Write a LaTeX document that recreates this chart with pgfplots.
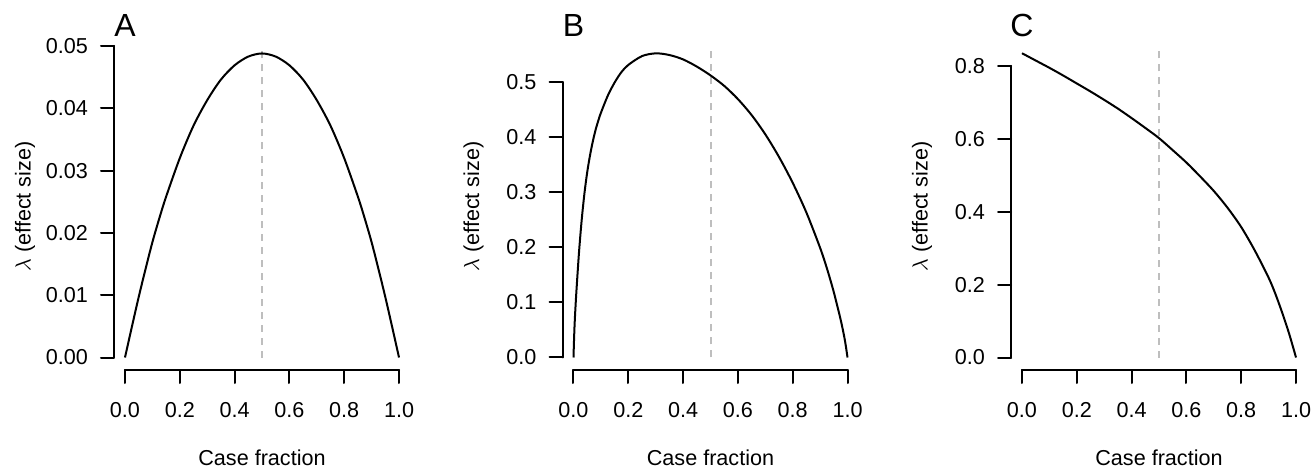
\documentclass[border=0pt]{standalone}
\usepackage{fontspec}
\setmainfont{Liberation Sans}
\usepackage{pgfplots}
\pgfplotsset{compat=1.18}
\definecolor{DASH}{HTML}{BEBEBE}

\tikzset{
  refline/.style={DASH, line width=1bp, dash pattern=on 3.5bp off 3bp},
  frame/.style={black, line width=1bp, line cap=round},
  tag/.style={font=\fontsize{16bp}{18bp}\selectfont, anchor=center, yshift=172.25bp},
}
\pgfplotsset{
  panel/.style={
    scale only axis, width=148bp, height=163.5bp, anchor=south west,
    xmin=-0.0401, xmax=1.0401,
    clip=false,
    axis x line*=bottom, axis y line*=left,
    axis line style={draw=none},
    tick align=outside, major tick length=6.5bp,
    tick style={black, line width=1bp, line cap=round},
    xtick={0,0.2,0.4,0.6,0.8,1},
    minor tick num=0,
    font=\fontsize{10.8bp}{13bp}\selectfont,
    /pgf/number format/assume math mode=true,
    xticklabel style={/pgf/number format/fixed, /pgf/number format/fixed zerofill, /pgf/number format/precision=1, yshift=-6bp},
    yticklabel style={xshift=-3bp},
    scaled y ticks=false,
    xlabel={Case fraction},
    ylabel={\(\lambda\) (effect size)},
    every axis x label/.style={at={(rel axis cs:0.5,0)}, yshift=-44bp, anchor=center},
    every axis y label/.style={at={(rel axis cs:0,0.5)}, xshift=-44.5bp, rotate=90, anchor=center},
  },
  ydigits/.style={yticklabel style={/pgf/number format/fixed, /pgf/number format/fixed zerofill, /pgf/number format/precision=#1}},
  curve/.style={black, line width=1bp, smooth},
}

\begin{document}
\begin{tikzpicture}
\path[use as bounding box] (0,0) rectangle (655.5bp,234bp);

% ---- A
\begin{axis}[panel, at={(57bp,49bp)},
  ymin=-0.002006, ymax=0.05048,
  ytick={0,0.01,0.02,0.03,0.04,0.05}, ydigits=2]
\draw[refline] (axis cs:0.5,0) -- (axis cs:0.5,0.0497);
\addplot[curve] coordinates {
(0,0) (0.025,0.0049) (0.05,0.0097) (0.075,0.0142) (0.1,0.0185) (0.125,0.0223)
(0.15,0.0258) (0.2,0.0320) (0.25,0.0372) (0.3,0.0413) (0.35,0.0446) (0.4,0.0469)
(0.45,0.0483) (0.5,0.0488) (0.55,0.0483) (0.6,0.0469) (0.65,0.0446) (0.7,0.0413)
(0.75,0.0372) (0.8,0.0320) (0.85,0.0258) (0.875,0.0223) (0.9,0.0185) (0.925,0.0142)
(0.95,0.0097) (0.975,0.0049) (1,0)
};
\draw[frame] ({axis cs:0,0} |- {rel axis cs:0,0}) -- ({axis cs:1,0} |- {rel axis cs:0,0});
\draw[frame] ({rel axis cs:0,0} |- {axis cs:0,0}) -- ({rel axis cs:0,0} |- {axis cs:0,0.05});
\node[tag] at ({axis cs:0,0} |- {rel axis cs:0,0}) {A};
\end{axis}

% ---- B
\begin{axis}[panel, at={(281.25bp,49bp)},
  ymin=-0.02269, ymax=0.5708,
  ytick={0,0.1,0.2,0.3,0.4,0.5}, ydigits=1]
\draw[refline] (axis cs:0.5,0) -- (axis cs:0.5,0.5617);
\addplot[curve] coordinates {
(0,0) (0.0025,0.04) (0.005,0.07) (0.01,0.115) (0.02,0.19) (0.03,0.25)
(0.04,0.298) (0.05,0.336) (0.06,0.366) (0.07,0.391) (0.08,0.412) (0.09,0.429)
(0.1,0.444) (0.125,0.475) (0.15,0.499) (0.175,0.518) (0.2,0.531) (0.25,0.547)
(0.3,0.552) (0.35,0.549) (0.4,0.541) (0.45,0.528) (0.5,0.512) (0.55,0.493)
(0.6,0.469) (0.65,0.440) (0.7,0.405) (0.75,0.364) (0.8,0.317) (0.85,0.263)
(0.9,0.199) (0.925,0.1615) (0.95,0.1185) (0.975,0.0685) (0.99,0.0325) (1,0)
};
\draw[frame] ({axis cs:0,0} |- {rel axis cs:0,0}) -- ({axis cs:1,0} |- {rel axis cs:0,0});
\draw[frame] ({rel axis cs:0,0} |- {axis cs:0,0}) -- ({rel axis cs:0,0} |- {axis cs:0,0.5});
\node[tag] at ({axis cs:0,0} |- {rel axis cs:0,0}) {B};
\end{axis}

% ---- C
\begin{axis}[panel, at={(505.5bp,49bp)},
  ymin=-0.0343, ymax=0.8631,
  ytick={0,0.2,0.4,0.6,0.8}, ydigits=1]
\draw[refline] (axis cs:0.5,0) -- (axis cs:0.5,0.849);
\addplot[curve] coordinates {
(0,0.835) (0.05,0.815) (0.1,0.795) (0.15,0.774) (0.2,0.752) (0.25,0.730)
(0.3,0.707) (0.35,0.683) (0.4,0.657) (0.45,0.630) (0.5,0.602) (0.55,0.569)
(0.6,0.535) (0.65,0.497) (0.7,0.457) (0.75,0.411) (0.8,0.358) (0.85,0.293)
(0.9,0.219) (0.925,0.174) (0.95,0.122) (0.975,0.065) (1,0)
};
\draw[frame] ({axis cs:0,0} |- {rel axis cs:0,0}) -- ({axis cs:1,0} |- {rel axis cs:0,0});
\draw[frame] ({rel axis cs:0,0} |- {axis cs:0,0}) -- ({rel axis cs:0,0} |- {axis cs:0,0.8});
\node[tag] at ({axis cs:0,0} |- {rel axis cs:0,0}) {C};
\end{axis}
\end{tikzpicture}
\end{document}
